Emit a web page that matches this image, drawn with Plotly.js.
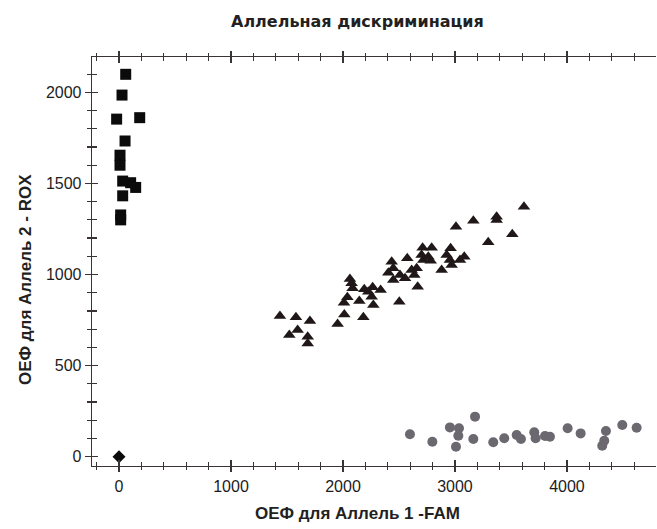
<!DOCTYPE html>
<html>
<head>
<meta charset="utf-8">
<script src="https://cdn.plot.ly/plotly-3.0.1.min.js"></script>
<style>html,body{margin:0;padding:0;background:#fff;}#chart{width:657px;height:529px;}</style>
</head>
<body>
<div id="chart"></div>
<script>
// Allele 2 homozygotes (squares)
var allele2X = [60, 27, -21, 185, 54, 9, 9, 33, 104, 149, 33, 15, 15];
var allele2Y = [2099, 1985, 1853, 1861, 1733, 1655, 1600, 1513, 1504, 1478, 1432, 1327, 1300];

// Heterozygotes (triangles)
var heteroX = [1437, 1580, 1705, 1521, 1595, 1685, 1685, 1952, 2012, 2062, 2086, 2039, 2009, 2146, 2190, 2265, 2271, 2256, 2336, 2182,
               2435, 2405, 2449, 2509, 2554, 2574, 2658, 2637, 2667, 2503, 2711, 2717, 2792, 2783, 2881, 2961, 2955, 3045, 3083,
               3009, 3164, 3372, 3372, 3297, 3512, 3616, 2449, 2702, 2762, 2926, 2970, 2613, 2226, 2077];
var heteroY = [772, 765, 745, 668, 695, 659, 622, 728, 781, 975, 924, 875, 845, 855, 919, 930, 833, 878, 915, 765,
               1070, 1010, 970, 997, 979, 1089, 1034, 997, 933, 851, 1147, 1080, 1147, 1076, 1025, 1144, 1080, 1080, 1098,
               1262, 1295, 1317, 1299, 1177, 1221, 1372, 1034, 1107, 1098, 1107, 1052, 1025, 906, 952];

// Allele 1 homozygotes (circles)
var allele1X = [2598, 2798, 2955, 3036, 3030, 3009, 3179, 3164, 3342, 3440, 3551, 3589, 3708, 3720, 3804, 3848, 4006, 4122, 4348, 4333, 4315, 4494, 4622];
var allele1Y = [123, 82, 161, 156, 115, 55, 220, 97, 79, 101, 119, 97, 134, 101, 114, 110, 156, 128, 141, 88, 60, 174, 159];

// No template control (diamond)
var ntcX = [0];
var ntcY = [0];

var chartTitle = "Аллельная дискриминация";
var xTitle = "ОЕФ для Аллель 1 -FAM";
var yTitle = "ОЕФ для Аллель 2 - ROX";

var W = 657, H = 529;
var M = {l: 92, r: 1, t: 57, b: 63};
var pw = W - M.l - M.r, ph = H - M.t - M.b;
function pxX(px){ return (px - M.l) / pw; }
function pxY(py){ return (H - M.b - py) / ph; }

var xRange = [-241, 4795];
var yRange = [-51, 2194];
var axisColor = "#3a3335";
var tickFont = {family: "Liberation Sans, Arial, sans-serif", size: 16, color: "#1c1c1c"};

var traces = [
  {x: allele2X, y: allele2Y, mode: "markers", type: "scatter", name: "Аллель 2",
   marker: {symbol: "square", size: 11, color: "#0b0b0b"}},
  {x: heteroX, y: heteroY, mode: "markers", type: "scatter", name: "Гетерозиготы",
   marker: {symbol: "triangle-up", size: 11, color: "#1f1718"}},
  {x: allele1X, y: allele1Y, mode: "markers", type: "scatter", name: "Аллель 1",
   marker: {symbol: "circle", size: 10, color: "#6b6870"}},
  {x: ntcX, y: ntcY, mode: "markers", type: "scatter", name: "NTC",
   marker: {symbol: "diamond", size: 10, color: "#0b0b0b"}},
  {x: [], y: [], xaxis: "x2", yaxis: "y2", mode: "markers", type: "scatter", showlegend: false, hoverinfo: "skip"}
];

var layout = {
  width: W, height: H,
  margin: M,
  paper_bgcolor: "#ffffff", plot_bgcolor: "#ffffff",
  showlegend: false,
  xaxis: {
    range: xRange, dtick: 1000, tick0: 0, showgrid: false, zeroline: false,
    showline: true, linecolor: axisColor, linewidth: 1.3, mirror: "ticks",
    ticks: "outside", ticklen: 5, tickcolor: axisColor, tickwidth: 1.3,
    minor: {ticks: "outside", dtick: 200, ticklen: 3, tickcolor: axisColor, tickwidth: 1.2, showgrid: false},
    tickfont: tickFont, fixedrange: true
  },
  yaxis: {
    range: yRange, dtick: 500, tick0: 0, showgrid: false, zeroline: false,
    showline: true, linecolor: axisColor, linewidth: 1.3, mirror: false,
    ticks: "outside", ticklen: 6, tickcolor: axisColor, tickwidth: 1.3,
    minor: {ticks: "outside", dtick: 100, ticklen: 4, tickcolor: axisColor, tickwidth: 1.2, showgrid: false},
    tickfont: tickFont, fixedrange: true
  },
  xaxis2: {
    overlaying: "x", anchor: "y2", side: "bottom", range: xRange, dtick: 1000, tick0: 0,
    showgrid: false, zeroline: false, showline: false, showticklabels: false, mirror: "ticks",
    ticks: "inside", ticklen: 6, tickcolor: axisColor, tickwidth: 1.3,
    minor: {ticks: "inside", dtick: 200, ticklen: 4, tickcolor: axisColor, tickwidth: 1.2, showgrid: false},
    fixedrange: true
  },
  yaxis2: {
    overlaying: "y", anchor: "x2", side: "left", range: yRange, dtick: 500, tick0: 0,
    showgrid: false, zeroline: false, showline: false, showticklabels: false,
    ticks: "inside", ticklen: 6, tickcolor: axisColor, tickwidth: 1.3,
    minor: {ticks: "inside", dtick: 100, ticklen: 5, tickcolor: axisColor, tickwidth: 1.2, showgrid: false},
    fixedrange: true
  },
  annotations: [
    {text: "<b>" + chartTitle + "</b>", xref: "paper", yref: "paper", x: pxX(357), y: pxY(21), xanchor: "center", yanchor: "middle",
     showarrow: false, font: {family: "DejaVu Sans, sans-serif", size: 16, color: "#231f20"}},
    {text: "<b>" + xTitle + "</b>", xref: "paper", yref: "paper", x: pxX(357), y: pxY(513), xanchor: "center", yanchor: "middle",
     showarrow: false, font: {family: "Liberation Sans, Arial, sans-serif", size: 17, color: "#231f20"}},
    {text: "<b>" + yTitle + "</b>", xref: "paper", yref: "paper", x: pxX(25), y: pxY(280), xanchor: "center", yanchor: "middle",
     textangle: -90, showarrow: false, font: {family: "Liberation Sans, Arial, sans-serif", size: 17, color: "#231f20"}}
  ]
};

Plotly.newPlot("chart", traces, layout, {staticPlot: true, displayModeBar: false});
</script>
</body>
</html>
